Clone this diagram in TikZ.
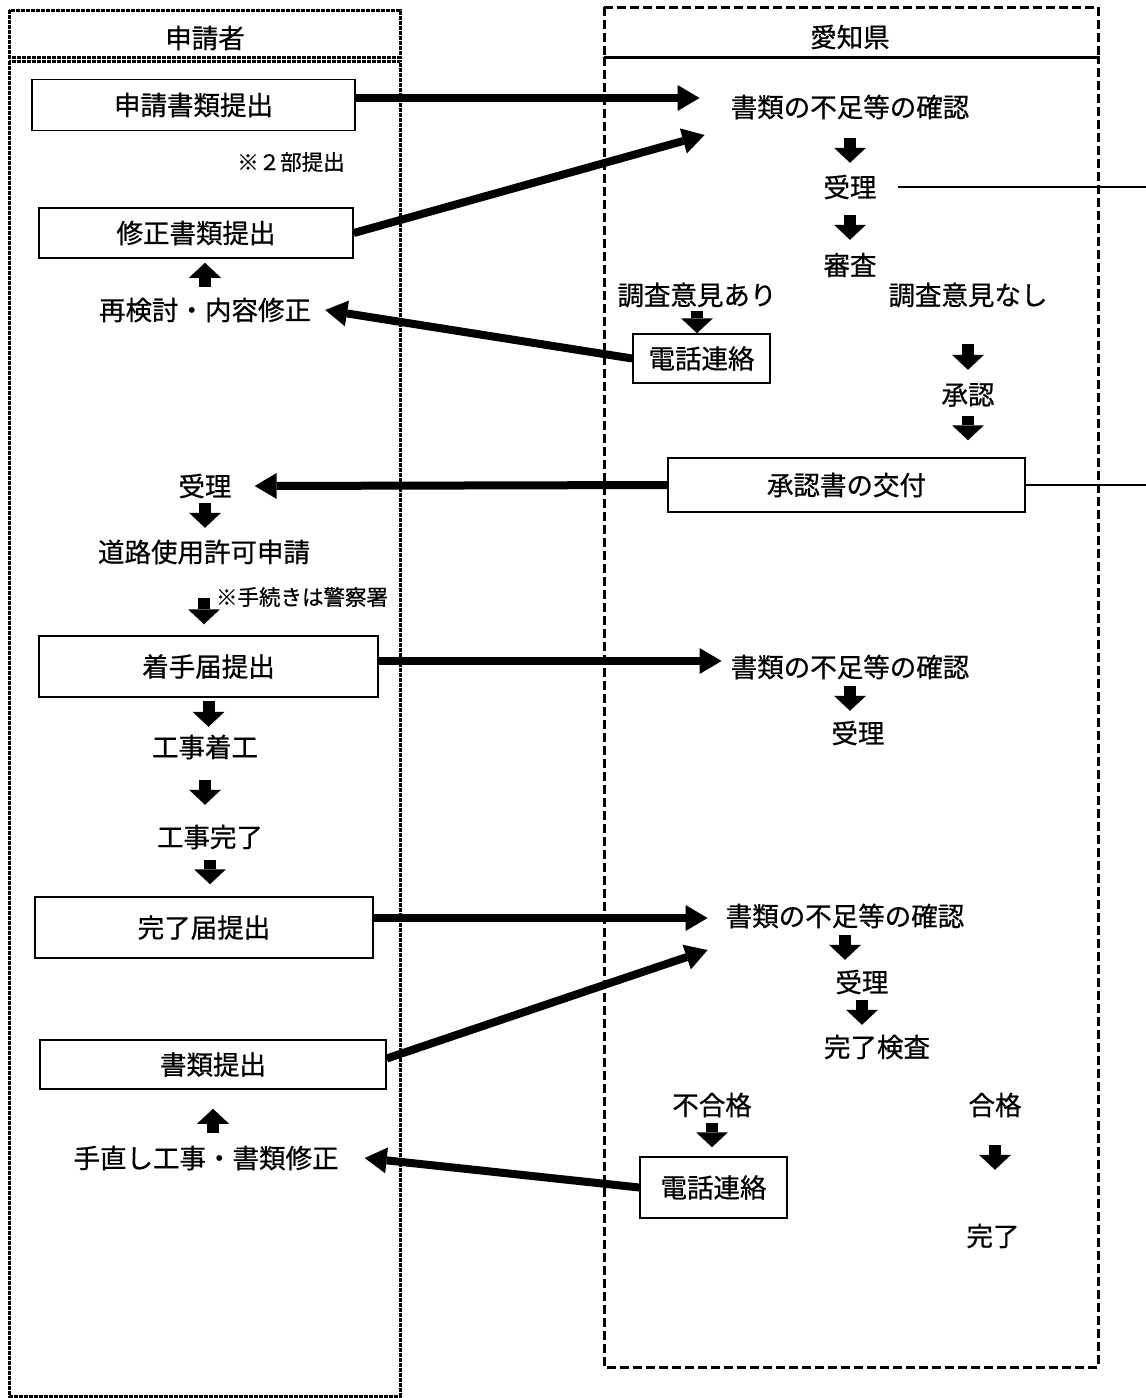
\documentclass[tikz,border=0pt]{standalone}
\usepackage{fontspec}
\setmainfont{Noto Sans CJK JP}[UprightFeatures={FakeBold=0.7}]
\usetikzlibrary{arrows.meta, positioning}

\begin{document}
\begin{tikzpicture}[x=1pt, y=-1pt]
	\tikzset{txt/.style={inner sep=0pt, minimum height=26pt, font=\fontsize{26.5}{30}\selectfont},
		note/.style={inner sep=0pt, font=\fontsize{21.5}{24}\selectfont},
		box/.style={txt, draw, line width=1.5pt},
		thk/.style={line width=8pt, -{Triangle[width=26pt, length=22pt, line width=0pt]}},
		blk/.style={line width=12pt, -{Triangle[width=32pt, length=15pt, line width=0pt]}},
		lane1/.style={line width=3pt, dash pattern=on 4pt off 1pt},
		lane2/.style={line width=3pt, dash pattern=on 9pt off 4pt},
		thin/.style={line width=1.4pt}}
	\useasboundingbox (0,0) rectangle (1146,1398);

	\draw[lane1] (9,10) rectangle (400,57);
	\draw[lane1] (9,61) rectangle (400,1396);
	\draw[lane2] (604,7) rectangle (1098,57);
	\draw[lane2] (604,57) rectangle (1098,1367);
	\node[txt] (H1) at (205,38) {申請者};
	\node[txt] (H2) at (850,37) {愛知県};

	\node[box, minimum width=323pt, minimum height=51pt] (S1) at (193.5,105) {申請書類提出};
	\node[note] (N1) at (291,162) {※２部提出};
	\node[box, minimum width=314pt, minimum height=50pt] (S2) at (196,233) {修正書類提出};
	\node[txt] (R) at (205,310) {再検討・内容修正};
	\node[txt] (U2) at (205,486) {受理};
	\node[txt] (DR) at (204,552) {道路使用許可申請};
	\node[note] (N2) at (302,597) {※手続きは警察署};
	\node[box, minimum width=339pt, minimum height=61pt] (CH) at (208.5,666.5) {着手届提出};
	\node[txt] (KJ1) at (205,747) {工事着工};
	\node[txt] (KJ2) at (210,837) {工事完了};
	\node[box, minimum width=338pt, minimum height=61pt] (KB) at (204,927.5) {完了届提出};
	\node[box, minimum width=346pt, minimum height=49pt] (SB) at (213,1064.5) {書類提出};
	\node[txt] (TN) at (206,1158) {手直し工事・書類修正};

	\node[txt] (C1) at (850,107) {書類の不足等の確認};
	\node[txt] (U1) at (850,187) {受理};
	\node[txt] (SS) at (850,265) {審査};
	\node[txt] (AR) at (697,295) {調査意見あり};
	\node[txt] (NS) at (968,295) {調査意見なし};
	\node[box, minimum width=137pt, minimum height=49pt] (T1) at (701.5,358.5) {電話連絡};
	\node[txt] (SN) at (968,395) {承認};
	\node[box, minimum width=357pt, minimum height=54pt] (K) at (846.5,485) {承認書の交付};
	\node[txt] (C2) at (850,667) {書類の不足等の確認};
	\node[txt] (U3) at (858,733) {受理};
	\node[txt] (C3) at (845,916) {書類の不足等の確認};
	\node[txt] (U4) at (862,982) {受理};
	\node[txt] (KS) at (877,1047) {完了検査};
	\node[txt] (FG) at (712,1105) {不合格};
	\node[box, minimum width=147pt, minimum height=61pt] (T2) at (713.5,1187.5) {電話連絡};
	\node[txt] (GK) at (995,1105) {合格};
	\node[txt] (KR) at (993,1236) {完了};

	\coordinate (E1) at (1146,187);
	\coordinate (E2) at (1146,485);
	\draw[thin] ([xshift=21pt]U1.east) -- (E1);
	\draw[thin] (K.east) -- (E2);

	\draw[thk] ([yshift=7pt]S1.east) -- ([xshift=-31pt, yshift=9pt]C1.west);
	\draw[thk] (S2.east) -- ([xshift=-26pt, yshift=-28pt]C1.west);
	\draw[thk] (T1.west) -- ([xshift=14pt]R.east);
	\draw[thk] (K.west) -- ([xshift=23pt]U2.east);
	\draw[thk] ([yshift=5.5pt]CH.east) -- ([xshift=-9pt, yshift=6pt]C2.west);
	\draw[thk] ([yshift=9.5pt]KB.east) -- ([xshift=-18pt, yshift=-2pt]C3.west);
	\draw[thk] ([yshift=6pt]SB.east) -- ([xshift=-18pt, yshift=-34pt]C3.west);
	\draw[thk] (T2.west) -- ([xshift=26pt]TN.east);

	\draw[blk, shorten <=18pt, shorten >=11pt] (C1.south) -- (C1.south |- U1.north);
	\draw[blk, shorten <=15pt, shorten >=12pt] (U1.south) -- (U1.south |- SS.north);
	\draw[blk, shorten <=3pt] (AR.south) -- (AR.south |- T1.north);
	\draw[blk, shorten <=36pt, shorten >=12pt] (NS.south) -- (NS.south |- SN.north);
	\draw[blk, shorten <=8pt, shorten >=17pt] (SN.south) -- (SN.south |- K.north);
	\draw[blk, shorten <=6pt, shorten >=9pt] (C2.south) -- (C2.south |- U3.north);
	\draw[blk, shorten <=6pt, shorten >=9pt] (C3.south) -- (C3.south |- U4.north);
	\draw[blk, shorten <=5pt, shorten >=9pt] (U4.south) -- (U4.south |- KS.north);
	\draw[blk, shorten <=5pt, shorten >=9pt] (FG.south) -- (FG.south |- T2.north);
	\draw[blk, shorten <=27pt, shorten >=53pt] (GK.south) -- (GK.south |- KR.north);

	\draw[blk, shorten <=10pt, shorten >=4pt] (R.north) -- (R.north |- S2.south);
	\draw[blk, shorten <=4pt, shorten >=11pt] (U2.south) -- (U2.south |- DR.north);
	\draw[blk, shorten <=33pt, shorten >=11pt] (DR.south) -- (DR.south |- CH.north);
	\draw[blk, shorten <=3pt, shorten >=7pt] (CH.south) -- (CH.south |- KJ1.north);
	\draw[blk, shorten <=20pt, shorten >=19pt] (KJ1.south) -- (KJ1.south |- KJ2.north);
	\draw[blk, shorten <=10pt, shorten >=12pt] (KJ2.south) -- (KJ2.south |- KB.north);
	\draw[blk, shorten <=12pt, shorten >=19pt] (SB.south |- TN.north) -- (SB.south);
\end{tikzpicture}
\end{document}
